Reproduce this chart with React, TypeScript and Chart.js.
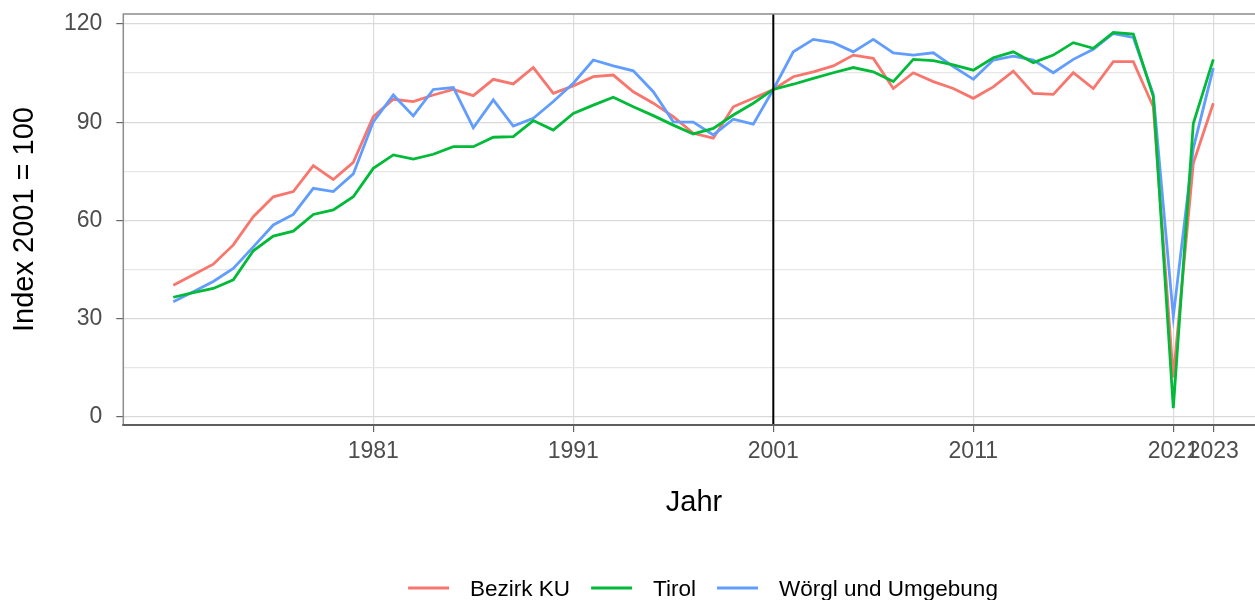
import React, { useEffect, useRef } from "react";
import { Chart, registerables } from "chart.js";

Chart.register(...registerables);

const years = [
  1971, 1972, 1973, 1974, 1975, 1976, 1977, 1978, 1979, 1980,
  1981, 1982, 1983, 1984, 1985, 1986, 1987, 1988, 1989, 1990,
  1991, 1992, 1993, 1994, 1995, 1996, 1997, 1998, 1999, 2000,
  2001, 2002, 2003, 2004, 2005, 2006, 2007, 2008, 2009, 2010,
  2011, 2012, 2013, 2014, 2015, 2016, 2017, 2018, 2019, 2020,
  2021, 2022, 2023,
];

const bezirkKU = [
  40.2, 43.4, 46.6, 52.5, 61.1, 67.2, 68.8, 76.7, 72.5, 77.7,
  91.7, 97.0, 96.3, 98.3, 100.0, 98.1, 103.1, 101.7, 106.7, 98.8,
  101.1, 103.9, 104.4, 99.3, 95.8, 91.7, 86.6, 85.1, 94.7, 97.3,
  100.0, 103.9, 105.4, 107.2, 110.5, 109.5, 100.3, 105.1, 102.4, 100.3,
  97.3, 100.8, 105.6, 98.8, 98.5, 105.1, 100.3, 108.5, 108.5, 94.7,
  12.0, 77.4, 95.8,
];

const tirol = [
  36.5, 37.9, 39.2, 41.8, 50.7, 55.2, 56.7, 61.8, 63.2, 67.2,
  75.9, 80.0, 78.7, 80.2, 82.5, 82.5, 85.4, 85.6, 90.5, 87.6,
  92.7, 95.2, 97.6, 94.7, 92.0, 89.1, 86.4, 88.1, 92.2, 95.8,
  100.0, 101.6, 103.4, 105.1, 106.7, 105.4, 102.4, 109.2, 108.8, 107.5,
  105.9, 109.7, 111.5, 108.2, 110.5, 114.3, 112.6, 117.4, 116.9, 97.8,
  2.6, 89.6, 109.2,
];

const woergl = [
  35.1, 38.2, 41.3, 45.3, 51.9, 58.6, 61.8, 69.8, 68.8, 74.2,
  90.1, 98.3, 91.9, 100.0, 100.6, 88.3, 96.8, 88.8, 91.2, 96.3,
  101.9, 109.0, 107.2, 105.7, 99.3, 90.1, 90.0, 86.1, 90.9, 89.4,
  100.0, 111.5, 115.3, 114.3, 111.5, 115.3, 111.2, 110.5, 111.2, 107.0,
  103.1, 109.0, 110.2, 109.0, 105.1, 109.2, 112.3, 117.1, 115.9, 98.5,
  30.6, 82.0, 106.5,
];

const seriesNames = ["Bezirk KU", "Tirol", "Wörgl und Umgebung"];
const seriesColors = ["#F8766D", "#00BA38", "#619CFF"];

const xTicks = [1981, 1991, 2001, 2011, 2021, 2023];
const yTicks = [0, 15, 30, 45, 60, 75, 90, 105, 120];
const yLabelled = [0, 30, 60, 90, 120];
const refYear = 2001;

const xTitle = "Jahr";
const yTitle = "Index 2001 = 100";

const FONT = '"Liberation Sans", Arial, Helvetica, sans-serif';

const overlayPlugin = {
  id: "overlay",
  afterDatasetsDraw(chart: any) {
    const { ctx, chartArea: a, scales } = chart;
    const vx = scales.x.getPixelForValue(refYear);
    ctx.save();
    ctx.strokeStyle = "#000000";
    ctx.lineWidth = 2;
    ctx.beginPath();
    ctx.moveTo(vx, a.top);
    ctx.lineTo(vx, a.bottom);
    ctx.stroke();
    ctx.restore();
  },
  afterDraw(chart: any) {
    const { ctx, chartArea: a } = chart;
    ctx.save();
    // panel border
    ctx.strokeStyle = "#8c8c8c";
    ctx.lineWidth = 1.5;
    ctx.strokeRect(a.left, a.top, a.right - a.left + 5, a.bottom - a.top);
    ctx.strokeStyle = "#5e5e5e";
    ctx.lineWidth = 2;
    ctx.beginPath();
    ctx.moveTo(a.left - 1, a.bottom);
    ctx.lineTo(a.right, a.bottom);
    ctx.stroke();

    // y title
    ctx.fillStyle = "#000000";
    ctx.font = `29px ${FONT}`;
    ctx.save();
    ctx.translate(33.3, (a.top + a.bottom) / 2);
    ctx.rotate(-Math.PI / 2);
    ctx.textAlign = "center";
    ctx.textBaseline = "alphabetic";
    ctx.fillText(yTitle, 0, 0);
    ctx.restore();

    // x title
    ctx.textAlign = "center";
    ctx.textBaseline = "alphabetic";
    ctx.fillText(xTitle, 694, 511);

    // legend
    ctx.font = `22.5px ${FONT}`;
    const keyW = 41;
    const gap = 21;
    const widths = seriesNames.map((n) => ctx.measureText(n).width);
    let total = 0;
    widths.forEach((w, i) => {
      total += keyW + gap + w + (i < widths.length - 1 ? gap : 0);
    });
    let lx = 703 - total / 2;
    const ly = 588;
    ctx.textAlign = "left";
    seriesNames.forEach((n, i) => {
      ctx.strokeStyle = seriesColors[i];
      ctx.lineWidth = 3;
      ctx.beginPath();
      ctx.moveTo(lx, ly);
      ctx.lineTo(lx + keyW, ly);
      ctx.stroke();
      lx += keyW + gap;
      ctx.fillStyle = "#000000";
      ctx.fillText(n, lx, ly + 8);
      lx += widths[i] + gap;
    });
    ctx.restore();
  },
};

export default function App() {
  const canvasRef = useRef<HTMLCanvasElement | null>(null);

  useEffect(() => {
    if (!canvasRef.current) return;
    const mk = (vals: number[]) => years.map((yr, i) => ({ x: yr, y: vals[i] }));
    const allSeries = [bezirkKU, tirol, woergl];
    const drawOrder = [2, 0, 1];
    const chart = new Chart(canvasRef.current, {
      type: "line",
      data: {
        datasets: allSeries.map((vals, i) => ({
          label: seriesNames[i],
          data: mk(vals),
          borderColor: seriesColors[i],
          backgroundColor: seriesColors[i],
          borderWidth: 2.8,
          pointRadius: 0,
          tension: 0,
          fill: false,
          order: drawOrder[i],
        })),
      },
      options: {
        responsive: false,
        animation: false,
        events: [],
        layout: { padding: { top: 0, right: 0, bottom: 0, left: 0 } },
        plugins: {
          legend: { display: false },
          tooltip: { enabled: false },
          title: { display: false },
        },
        scales: {
          x: {
            type: "linear",
            min: 1968.5,
            max: 2025.085,
            afterBuildTicks: (scale: any) => {
              scale.ticks = xTicks.map((v) => ({ value: v }));
            },
            afterFit: (scale: any) => {
              scale.height = 175;
            },
            border: { display: false },
            grid: {
              color: "#dcdcdc",
              lineWidth: 1.2,
              tickColor: "#666666",
              tickLength: 7,
              drawTicks: true,
            },
            ticks: {
              autoSkip: false,
              maxRotation: 0,
              minRotation: 0,
              padding: 6,
              color: "#4d4d4d",
              font: { family: FONT, size: 23 },
              callback: (v: any) => String(v),
            },
          },
          y: {
            type: "linear",
            min: -2.54,
            max: 123.06,
            afterBuildTicks: (scale: any) => {
              scale.ticks = yTicks.map((v) => ({ value: v }));
            },
            afterFit: (scale: any) => {
              scale.width = 123.3;
              scale.paddingTop = 14;
            },
            border: { display: false },
            grid: {
              color: (c: any) =>
                yLabelled.includes(c.tick?.value) ? "#d9d9d9" : "#e6e6e6",
              lineWidth: 1.2,
              tickColor: (c: any) =>
                yLabelled.includes(c.tick?.value) ? "#666666" : "rgba(0,0,0,0)",
              tickLength: 7,
              drawTicks: true,
            },
            ticks: {
              autoSkip: false,
              padding: 14,
              color: "#4d4d4d",
              font: { family: FONT, size: 23 },
              callback: (v: any) => (yLabelled.includes(Number(v)) ? String(v) : ""),
            },
          },
        },
      },
      plugins: [overlayPlugin],
    } as any);
    return () => chart.destroy();
  }, []);

  return (
    <div style={{ position: "absolute", left: 0, top: 0, width: 1255, height: 600, background: "#ffffff" }}>
      <canvas ref={canvasRef} width={1255} height={600} style={{ display: "block" }} />
    </div>
  );
}
